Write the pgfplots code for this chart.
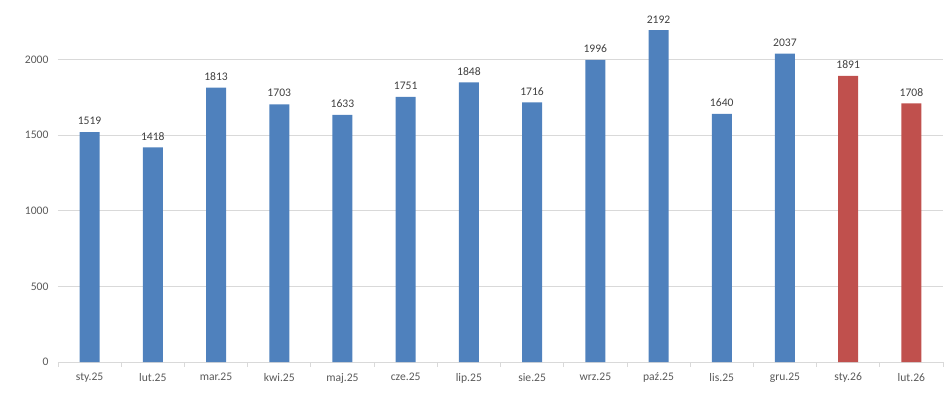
\documentclass[border=0pt]{standalone}
\usepackage{pgfplots}
\pgfplotsset{compat=1.18}
\usepackage{fontspec}
\setmainfont{Carlito}
\definecolor{barblue}{HTML}{4F81BD}
\definecolor{barred}{HTML}{C0504D}
\definecolor{gridc}{HTML}{D9D9D9}
\definecolor{labc}{HTML}{595959}
\definecolor{datc}{HTML}{404040}
\begin{document}
\begin{tikzpicture}
\path[use as bounding box] (-58bp,-40bp) rectangle (890bp,362bp);
\begin{axis}[
  at={(0,0)}, anchor=south west,
  scale only axis,
  width=885bp, height=348.1bp,
  xmin=-0.5, xmax=13.5,
  ymin=0, ymax=2300,
  ybar, bar width=20bp,
  axis x line*=bottom, axis y line*=left,
  axis line style={-},
  x axis line style={gridc, line width=0.8bp},
  y axis line style={draw=none},
  ytick={0,500,1000,1500,2000},
  ymajorgrids, grid style={gridc, line width=0.8bp},
  xtick={0,...,13},
  xticklabels={sty.25,lut.25,mar.25,kwi.25,maj.25,cze.25,lip.25,sie.25,wrz.25,paź.25,lis.25,gru.25,sty.26,lut.26},
  major tick length=0pt,
  ytick style={draw=none},
  extra x ticks={-0.5,0.5,1.5,2.5,3.5,4.5,5.5,6.5,7.5,8.5,9.5,10.5,11.5,12.5,13.5},
  extra x tick labels={},
  extra x tick style={tick style={draw=gridc, line width=0.8bp}, major tick length=4.5bp, tick align=outside, grid=none},
  tick label style={font=\fontsize{11.6bp}{13bp}\selectfont, text=labc},
  xticklabel style={yshift=-7.5bp},
  yticklabel style={xshift=-6bp},
  /pgf/number format/assume math mode=true,
  /pgf/number format/1000 sep={},
  nodes near coords,
  every node near coord/.append style={font=\fontsize{11.6bp}{13bp}\selectfont, text=datc, anchor=south, inner sep=0pt, yshift=7bp},
  clip=false,
]
\addplot[fill=barblue, draw=none, bar shift=0pt] coordinates {
(0,1519) (1,1418) (2,1813) (3,1703) (4,1633) (5,1751) (6,1848) (7,1716) (8,1996) (9,2192) (10,1640) (11,2037)};
\addplot[fill=barred, draw=none, bar shift=0pt] coordinates {
(12,1891) (13,1708)};
\end{axis}
\end{tikzpicture}
\end{document}
